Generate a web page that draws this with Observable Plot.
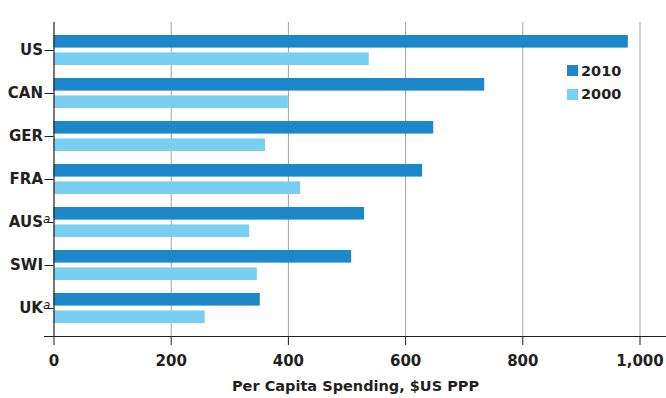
<!DOCTYPE html>
<html>
<head>
<meta charset="utf-8">
<script src="https://cdn.jsdelivr.net/npm/d3@7"></script>
<script src="https://cdn.jsdelivr.net/npm/@observablehq/plot@0.6"></script>
<style>
  html, body { margin: 0; padding: 0; background: #fff; }
  #wrap { position: relative; width: 666px; height: 398px; font-family: "DejaVu Sans", sans-serif; color: #231f20; }
  #legend { position: absolute; left: 567px; top: 59px; }
  .row { display: flex; align-items: center; height: 23.5px; font-size: 14.5px; font-weight: bold; }
  .sw { width: 11px; height: 11px; margin-right: 3px; }
  svg g[aria-label="x-axis label"] text { font-size: 14.5px; }
</style>
</head>
<body>
<div id="wrap"><div id="legend"></div></div>
<script>
const countries = ["US", "CAN", "GER", "FRA", "AUS", "SWI", "UK"];
const footnoted = ["AUS", "UK"];
const years = ["2010", "2000"];
const values2010 = [980, 735, 648, 629, 530, 508, 352];
const values2000 = [538, 400, 361, 421, 334, 347, 258];
const xTicks = [0, 200, 400, 600, 800, 1000];
const colors = ["#1c87c9", "#79cff2"];
const xLabel = "Per Capita Spending, $US PPP";

const d2010 = countries.map((c, i) => ({country: c, year: years[0], value: values2010[i]}));
const d2000 = countries.map((c, i) => ({country: c, year: years[1], value: values2000[i]}));

const chart = Plot.plot({
  width: 666,
  height: 398,
  marginTop: 22,
  marginBottom: 62,
  marginLeft: 44,
  marginRight: 0,
  style: {fontFamily: "DejaVu Sans, sans-serif", fontSize: "15px", fontWeight: "bold", color: "#231f20", background: "transparent"},
  x: {domain: [-16.2, 1045.2]},
  y: {domain: countries, paddingInner: 0.3125, paddingOuter: 0.29},
  marks: [
    Plot.ruleX(xTicks.filter(d => d > 0), {stroke: "#a3a3a3", strokeWidth: 1}),
    Plot.barX(d2010, {x: "value", y: "country", fill: colors[0], insetBottom: 17.4}),
    Plot.barX(d2000, {x: "value", y: "country", fill: colors[1], insetTop: 17.4}),
    Plot.ruleX([0], {stroke: "#231f20", strokeWidth: 1.2}),
    Plot.frame({anchor: "bottom", stroke: "#231f20", strokeWidth: 1.2}),
    Plot.axisX({ticks: xTicks, tickSize: 9, tickPadding: 10, tickFormat: d3.format(","),
      label: xLabel, labelAnchor: "center", labelOffset: 54, labelArrow: "none"}),
    Plot.axisY({tickSize: 9, tickPadding: 2, dx: 9.5, label: null})
  ]
});

const wrap = document.getElementById("wrap");
wrap.insertBefore(chart, wrap.firstChild);

// footnote superscripts on country labels
chart.querySelectorAll("text").forEach(t => {
  if (footnoted.includes(t.textContent)) {
    const w0 = t.getComputedTextLength();
    const ts = document.createElementNS("http://www.w3.org/2000/svg", "tspan");
    ts.textContent = "a";
    ts.setAttribute("font-style", "italic");
    ts.setAttribute("font-size", "12px");
    ts.setAttribute("font-weight", "normal");
    ts.setAttribute("dy", "-4");
    t.appendChild(ts);
    const w1 = t.getComputedTextLength();
    const tr = t.getAttribute("transform") || "";
    t.setAttribute("transform", tr + ` translate(${w1 - w0},0)`);
  }
});

// legend
const legend = document.getElementById("legend");
years.forEach((y, i) => {
  const row = document.createElement("div");
  row.className = "row";
  const sw = document.createElement("div");
  sw.className = "sw";
  sw.style.background = colors[i];
  const tx = document.createElement("span");
  tx.textContent = y;
  row.appendChild(sw);
  row.appendChild(tx);
  legend.appendChild(row);
});
</script>
</body>
</html>
